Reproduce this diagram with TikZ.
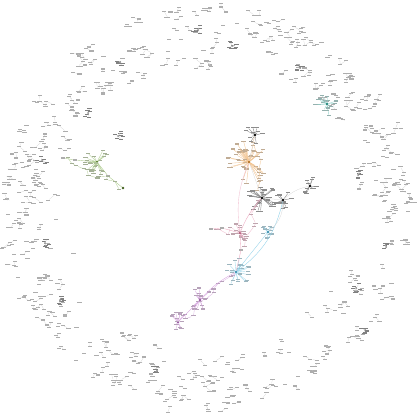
\documentclass[tikz,border=0pt]{standalone}
\usetikzlibrary{calc}
\definecolor{orng}{RGB}{228,140,40}
\definecolor{pnk}{RGB}{226,110,150}
\definecolor{cyn}{RGB}{70,180,220}
\definecolor{prpl}{RGB}{185,95,200}
\definecolor{grn}{RGB}{105,160,45}
\definecolor{tl}{RGB}{35,165,150}
\begin{document}
\begin{tikzpicture}[x=1pt,y=-1pt,
    lbl/.style={fill=black!32, inner sep=0pt, minimum width=4.2pt, minimum height=1.1pt},
    hub/.style={circle, fill=black!75, inner sep=0pt, minimum size=2.6pt},
    link/.style={draw=black!18, line width=0.2pt},
    clink/.style={line width=0.35pt}
]
\useasboundingbox[fill=white] (0,0) rectangle (417,417);
\pgfmathsetseed{23}

% outer ring of small components
\foreach \g in {1,...,330} {
  \pgfmathsetmacro{\ang}{rnd*360}
  \pgfmathsetmacro{\rad}{140+64*sqrt(rnd)}
  \pgfmathsetmacro{\px}{208+\rad*cos(\ang)}
  \pgfmathsetmacro{\py}{208+\rad*sin(\ang)}
  \node[lbl] (g\g) at (\px,\py) {};
  \pgfmathtruncatemacro{\nm}{random(0,3)}
  \ifnum\nm>0
  \foreach \m in {1,...,\nm} {
    \pgfmathsetmacro{\dx}{14*rnd-7}
    \pgfmathsetmacro{\dy}{12*rnd-6}
    \node[lbl] (g\g-\m) at ($(g\g)+(\dx,\dy)$) {};
    \draw[link] (g\g) -- (g\g-\m);
  }
  \fi
}

% dense clumps in the ring
\foreach \nm/\cx/\cy in {c1/42/160, c2/198/30, c3/232/46, c4/157/370, c5/45/243,
    c6/386/247, c7/356/288, c8/88/113, c9/118/136, c10/300/68, c11/120/62, c12/358/175,
    c13/365/330, c14/60/300} {
  \node[hub, fill=black!50, minimum size=2pt] (\nm) at (\cx,\cy) {};
  \foreach \m in {1,...,7} {
    \pgfmathsetmacro{\ang}{rnd*360}
    \pgfmathsetmacro{\r}{1.5+4*rnd}
    \node[lbl, fill=black!50] (\nm-\m) at ($(\nm)+(\ang:\r)$) {};
    \draw[link] (\nm) -- (\nm-\m);
  }
}

% coloured clusters
\foreach \nm/\col/\cx/\cy/\n/\s in {or/orng/249/162/45/22, bk/black/262/198/28/15,
    bk2/black/283/200/14/9, bk3/black/255/135/10/10, pk/pnk/240/233/14/10,
    cy/cyn/268/232/14/7, cy2/cyn/236/272/22/14, pu/prpl/200/300/18/12,
    pu2/prpl/178/322/14/10, gr/grn/97/162/24/13, tl1/tl/327/104/16/12,
    gy/black/310/186/10/10} {
  \node[hub, fill=\col!80!black] (\nm) at (\cx,\cy) {};
  \foreach \k in {1,...,\n} {
    \pgfmathsetmacro{\ang}{rnd*360}
    \pgfmathsetmacro{\r}{\s*sqrt(rnd)}
    \node[lbl, fill=\col!50!black!45] (\nm\k) at ($(\nm)+(\ang:\r)$) {};
    \draw[clink, draw=\col!50] (\nm) -- (\nm\k);
  }
}

% chains between clusters
\node[lbl] (ch1) at (75,160) {};
\node[lbl] (ch2) at (63,158) {};
\node[lbl] (ch3) at (108,176) {};
\node[hub, fill=grn!60!black] (ch4) at (123,188) {};
\draw[clink, draw=grn!60] (gr) -- (ch1) -- (ch2);
\draw[clink, draw=grn!60] (gr) -- (ch3) -- (ch4);

\node[lbl] (pc1) at (222,228) {};
\node[lbl] (pc2) at (211,229) {};
\node[lbl] (pc3) at (241,250) {};

\foreach \nm/\col/\a/\b/\n in {gch/grn/ch2/ch4/12, pch/prpl/cy2/pu2/14,
    kch/pnk/bk/pc3/8, lch/pnk/pk/pc2/5, och/orng/bk3/bk/6} {
  \foreach \k in {1,...,\n} {
    \pgfmathsetmacro{\t}{\k/(\n+1)}
    \pgfmathsetmacro{\dx}{8*rnd-4}
    \pgfmathsetmacro{\dy}{8*rnd-4}
    \node[lbl, fill=\col!50!black!45] (\nm\k) at ($(\a)!\t!(\b)+(\dx,\dy)$) {};
    \pgfmathtruncatemacro{\kp}{\k-1}
    \ifnum\k=1
      \draw[clink, draw=\col!45] (\a) -- (\nm\k);
    \else
      \draw[clink, draw=\col!45] (\nm\kp) -- (\nm\k);
    \fi
  }
}

\draw[clink, draw=pnk!60] (bk) to[bend right=10] (pk);
\draw[clink, draw=pnk!60] (pk) -- (pc1) -- (pc2);
\draw[clink, draw=pnk!60] (pk) -- (pc3) -- (cy2);
\draw[clink, draw=pnk!45] (or) to[bend right=15] (pk);

\draw[clink, draw=cyn!60] (bk2) to[bend left=20] (cy2);
\draw[clink, draw=cyn!60] (cy) -- (cy2);
\draw[clink, draw=prpl!60] (cy2) to[bend right=10] (pu);
\draw[clink, draw=prpl!60] (pu) -- (pu2);
\draw[link] (bk) -- (bk2);
\draw[link] (or) -- (bk);
\draw[link] (bk3) -- (or);
\draw[link] (bk2) to[bend left=15] (gy);
\draw[link] (bk2) to[bend left=25] (cy);
\end{tikzpicture}
\end{document}
